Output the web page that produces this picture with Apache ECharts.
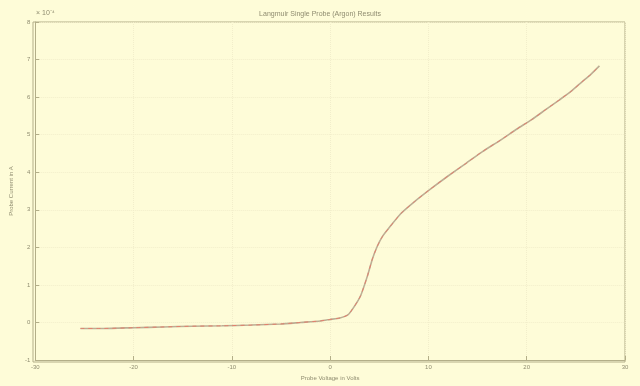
<!DOCTYPE html>
<html>
<head>
<meta charset="utf-8">
<script src="https://cdn.jsdelivr.net/npm/echarts@6/dist/echarts.min.js"></script>
<style>
  html, body { margin: 0; padding: 0; background: #fefcd8; }
  #chart { width: 640px; height: 386px; }
</style>
</head>
<body>
<div id="chart"></div>
<script>
// probe voltage (V) and probe current (x1e-4 A)
const voltage = [-25.4, -23, -20, -17, -14, -11, -8, -5, -3, -1, 0, 1, 1.8, 2.4, 3.1, 3.8, 4.3, 4.8, 5.3, 6, 7.2, 8.5, 10.2, 12, 13.9, 15.5, 17.3, 19, 20.5, 22, 23.3, 24.5, 25.6, 26.5, 27.4]
const current = [-0.16, -0.16, -0.14, -0.12, -0.1, -0.09, -0.07, -0.04, 0, 0.04, 0.08, 0.12, 0.2, 0.4, 0.71, 1.24, 1.69, 2.03, 2.28, 2.52, 2.9, 3.2, 3.55, 3.9, 4.25, 4.55, 4.85, 5.15, 5.4, 5.68, 5.92, 6.15, 6.4, 6.6, 6.83]
const xTicks = [-30, 30, 10]
const yTicks = [-1, 8, 1]

const axisColor = '#b3ae88'
const textColor = '#8f8c70'
const font = 'Liberation Sans'

const points = voltage.map((v, i) => [v, current[i]])

const charts = echarts.init(document.getElementById('chart'))
const option = {
  backgroundColor: '#fefcd8',
  animation: false,
  title: {
    text: 'Langmuir Single Probe (Argon) Results',
    left: 'center',
    top: 6,
    textStyle: { fontFamily: font, fontSize: 7, fontWeight: 'normal', color: textColor }
  },
  grid: { left: 33, right: 15, top: 22, bottom: 24 },
  xAxis: {
    type: 'value',
    min: xTicks[0],
    max: xTicks[1],
    interval: xTicks[2],
    name: 'Probe Voltage in Volts',
    nameLocation: 'middle',
    nameGap: 15,
    nameTextStyle: { fontFamily: font, fontSize: 6, color: textColor },
    axisLine: { onZero: false, lineStyle: { color: axisColor } },
    axisTick: { inside: true, length: 4, lineStyle: { color: axisColor } },
    axisLabel: { fontFamily: font, fontSize: 6, color: textColor, margin: 4 },
    splitLine: { show: true, lineStyle: { color: '#f2eecb', type: 'dotted' } }
  },
  yAxis: {
    type: 'value',
    min: yTicks[0],
    max: yTicks[1],
    interval: yTicks[2],
    name: 'Probe Current in A',
    nameLocation: 'middle',
    nameGap: 20,
    nameTextStyle: { fontFamily: font, fontSize: 6, color: textColor },
    axisLine: { onZero: false, lineStyle: { color: axisColor } },
    axisTick: { inside: true, length: 4, lineStyle: { color: axisColor } },
    axisLabel: { fontFamily: font, fontSize: 6, color: textColor, margin: 5 },
    splitLine: { show: true, lineStyle: { color: '#f2eecb', type: 'dotted' } }
  },
  graphic: [
    {
      type: 'text',
      left: 36,
      top: 10,
      style: { text: '\u00d7 10\u207b\u2074', fontFamily: font, fontSize: 7, fill: textColor }
    },
    {
      type: 'rect',
      shape: { x: 33, y: 22, width: 592, height: 340 },
      style: { fill: 'none', stroke: axisColor, lineWidth: 1 },
      silent: true
    }
  ],
  series: [
    {
      name: 'measured',
      type: 'line',
      data: points,
      smooth: 0.2,
      showSymbol: false,
      lineStyle: { color: '#bcae94', width: 1.6 }
    },
    {
      name: 'fit',
      type: 'line',
      data: points,
      smooth: 0.2,
      showSymbol: false,
      lineStyle: { color: '#e4806c', width: 1, type: [4, 4] }
    }
  ]
}
charts.setOption(option)
</script>
</body>
</html>
